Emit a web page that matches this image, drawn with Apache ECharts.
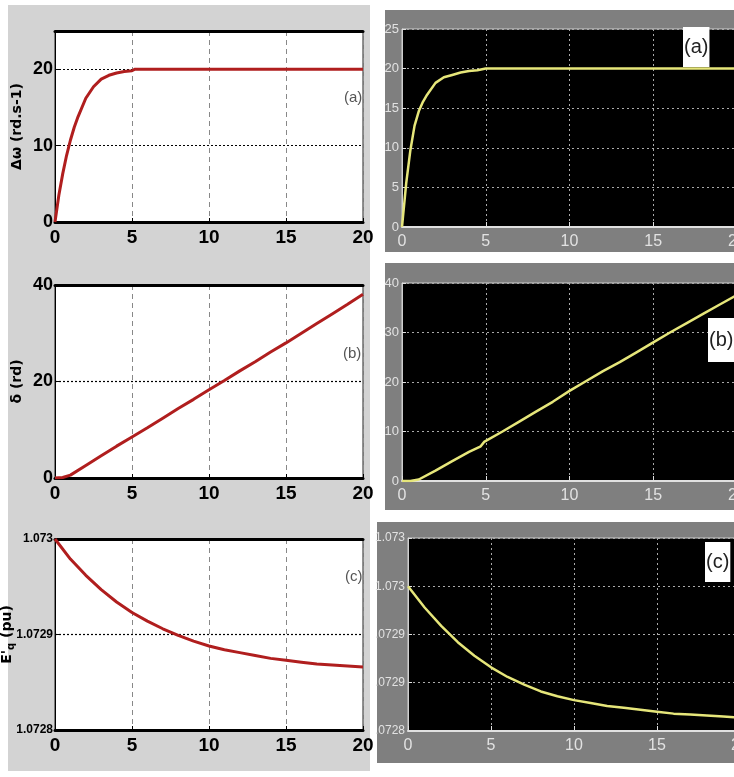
<!DOCTYPE html>
<html lang="en" style="height: 100%">
<head>
  <meta charset="utf-8">
</head>
<body style="height: 100%; margin: 0; background: #fff">
  <div id="container" style="width: 734px; height: 777px"></div>
  <script type="text/javascript" src="https://fastly.jsdelivr.net/npm/echarts@6/dist/echarts.min.js"></script>
  <script type="text/javascript">
    // --- data ---
    // left column (MATLAB plot, red)
    var tLeftA = [0, 0.25, 0.5, 0.75, 1, 1.25, 1.5, 2, 2.5, 3, 3.5, 4, 4.5, 5, 5.2, 10, 20];
    var speedLeft = [0, 3.5, 6.3, 8.7, 10.7, 12.4, 13.8, 16.2, 17.7, 18.7, 19.2, 19.5, 19.7, 19.8, 20.0, 20.0, 20.0];

    var tLeftB = [0, 0.5, 1, 2, 3, 4, 5, 6, 7, 8, 9, 10, 11, 12, 13, 14, 15, 16, 17, 18, 19, 20];
    var angleLeft = [0, 0.1, 0.6, 2.6, 4.6, 6.6, 8.5, 10.4, 12.4, 14.4, 16.3, 18.3, 20.2, 22.2, 24.1, 26.1, 28.0, 30.0, 32.0, 34.0, 36.0, 38.1];

    var tLeftC = [0, 1, 2, 3, 4, 5, 6, 7, 8, 9, 10, 11, 12, 13, 14, 15, 16, 17, 18, 19, 20];
    var eqLeft = [1.073, 1.072979, 1.072962, 1.072947, 1.072934, 1.072923, 1.072914, 1.072906, 1.072899, 1.072893,
      1.072888, 1.072884, 1.072881, 1.072878, 1.072875, 1.072873, 1.072871, 1.072869, 1.072868, 1.072867, 1.072866];

    // right column (Simulink scope, yellow)
    var tRightA = [0, 0.25, 0.5, 0.75, 1, 1.25, 1.5, 2, 2.5, 3, 3.5, 4, 4.5, 5, 20];
    var speedRight = [0, 5.5, 9.7, 12.8, 14.6, 15.8, 16.7, 18.2, 18.9, 19.2, 19.5, 19.7, 19.8, 20.0, 20.0];

    var tRightB = [0, 0.5, 1, 2, 3, 4, 4.7, 4.9, 6, 7, 8, 9, 10, 11, 12, 13, 14, 15, 16, 17, 18, 19, 20];
    var angleRight = [0, 0, 0.3, 2.1, 4.0, 5.9, 7.0, 7.9, 10.0, 12.0, 14.0, 16.0, 18.2, 20.2, 22.2, 24.0, 26.0, 28.0, 30.0, 31.9, 33.8, 35.7, 37.6];

    var tRightC = [0, 1, 2, 3, 4, 5, 6, 7, 8, 9, 10, 11, 12, 13, 14, 15, 16, 17, 18, 19, 20];
    var eqRight = [1.07295, 1.072928, 1.072909, 1.072892, 1.072878, 1.072866, 1.072856, 1.072848, 1.072841, 1.072836,
      1.072832, 1.072829, 1.072826, 1.072824, 1.072822, 1.07282, 1.072818, 1.072817, 1.072816, 1.072815, 1.072814];

    var rightCLabels = ['.0728', '.0729', '.0729', '1.073', '1.073'];

    function pairs(t, v) {
      return t.map(function (x, i) { return [x, v[i]]; });
    }

    var narrow = "'Liberation Sans Narrow', 'Liberation Sans', sans-serif";

    var leftGrids = [
      { left: 55, top: 31, width: 308, height: 191 },
      { left: 55, top: 285, width: 308, height: 193 },
      { left: 55, top: 539, width: 308, height: 191 }
    ];
    var rightGrids = [
      { left: 402, top: 29, width: 335, height: 198 },
      { left: 402, top: 283, width: 335, height: 198 },
      { left: 408, top: 538, width: 332, height: 193 }
    ];

    var grids = [];
    leftGrids.forEach(function (g) {
      grids.push(Object.assign({ show: true, outerBoundsMode: 'none', containLabel: false,
        backgroundColor: '#fff', borderColor: '#222', borderWidth: 1 }, g));
    });
    rightGrids.forEach(function (g) {
      grids.push(Object.assign({ show: true, outerBoundsMode: 'none', containLabel: false,
        backgroundColor: '#000', borderColor: '#cfcfcf', borderWidth: 1 }, g));
    });

    var xAxes = [];
    var yAxes = [];

    // left x axes (bottom + thick top border)
    [0, 1, 2].forEach(function (i) {
      xAxes.push({
        type: 'value', gridIndex: i, min: 0, max: 20, interval: 5,
        axisLine: { lineStyle: { color: '#000', width: 3 } },
        axisTick: { inside: true, length: 4, lineStyle: { color: '#000' } },
        axisLabel: { color: '#000', fontSize: 19, fontWeight: 'bold', fontFamily: narrow, margin: 6, hideOverlap: false },
        splitLine: { show: true, lineStyle: { color: '#888', type: [5, 4], width: 1 } }
      });
    });
    // right x axes
    [3, 4, 5].forEach(function (i) {
      xAxes.push({
        type: 'value', gridIndex: i, min: 0, max: 20, interval: 5,
        axisLine: { lineStyle: { color: '#e0e0e0', width: 2 } },
        axisTick: { inside: true, length: 5, lineStyle: { color: '#e0e0e0' } },
        axisLabel: { color: '#e2e2e2', fontSize: 16, fontFamily: narrow, margin: 7, hideOverlap: false },
        splitLine: { show: true, lineStyle: { color: '#aaa', type: [2, 3], width: 1 } }
      });
    });
    // left top border axes
    [0, 1, 2].forEach(function (i) {
      xAxes.push({
        type: 'value', gridIndex: i, position: 'top', min: 0, max: 20, interval: 5,
        axisLine: { lineStyle: { color: '#000', width: 3 } },
        axisTick: { show: false }, axisLabel: { show: false }, splitLine: { show: false }
      });
    });

    var leftY = [
      { min: 0, max: 25, interval: 10, name: 'Δω (rd.s-1)', nameGap: 31 },
      { min: 0, max: 40, interval: 20, name: 'δ (rd)', nameGap: 31 },
      { min: 1.0728, max: 1.073, interval: 0.0001, name: "{n|E'}{s|q}{n| (pu)}", nameGap: 41 }
    ];
    leftY.forEach(function (c, i) {
      yAxes.push({
        type: 'value', gridIndex: i, min: c.min, max: c.max, interval: c.interval,
        name: c.name, nameLocation: 'middle', nameRotate: 90, nameGap: c.nameGap, nameMoveOverlap: false,
        nameTextStyle: {
          color: '#000', fontSize: 14, fontWeight: 'bold', fontFamily: 'DejaVu Sans',
          rich: {
            n: { color: '#000', fontSize: 14, fontWeight: 'bold', fontFamily: 'DejaVu Sans' },
            s: { color: '#000', fontSize: 10, fontWeight: 'bold', fontFamily: 'DejaVu Sans', padding: [0, 0, -8, 0] }
          }
        },
        axisLine: { show: true, lineStyle: { color: '#000', width: 1 } },
        axisTick: { inside: true, length: 4, lineStyle: { color: '#000' } },
        axisLabel: {
          color: '#000', fontSize: i === 2 ? 12 : 18, fontWeight: 'bold', fontFamily: narrow, margin: 2,
          showMaxLabel: i !== 0, hideOverlap: false
        },
        splitLine: { show: true, lineStyle: { color: '#000', type: [2, 2], width: 1.2 } }
      });
    });

    var rightY = [
      { min: 0, max: 25, interval: 5 },
      { min: 0, max: 40, interval: 10 },
      { min: 1.0728, max: 1.073, interval: 0.00005 }
    ];
    rightY.forEach(function (c, i) {
      yAxes.push({
        type: 'value', gridIndex: 3 + i, min: c.min, max: c.max, interval: c.interval,
        axisLine: { show: true, lineStyle: { color: '#cfcfcf', width: 1 } },
        axisTick: { inside: true, length: 4, lineStyle: { color: '#e0e0e0' } },
        axisLabel: {
          color: '#e2e2e2', fontSize: i === 2 ? 12 : 13, fontFamily: narrow, margin: 3, hideOverlap: false,
          formatter: i === 2 ? function (v) {
            return rightCLabels[Math.round((v - 1.0728) / 0.00005)];
          } : null
        },
        splitLine: { show: true, lineStyle: { color: '#aaa', type: [2, 3], width: 1 } }
      });
    });

    var leftLine = { type: 'line', showSymbol: false, lineStyle: { color: '#b01e1e', width: 3 }, z: 5 };
    var rightLine = { type: 'line', showSymbol: false, lineStyle: { color: '#e6e67a', width: 2.5 }, z: 5 };

    var series = [
      Object.assign({ xAxisIndex: 0, yAxisIndex: 0, data: pairs(tLeftA, speedLeft) }, leftLine),
      Object.assign({ xAxisIndex: 1, yAxisIndex: 1, data: pairs(tLeftB, angleLeft) }, leftLine),
      Object.assign({ xAxisIndex: 2, yAxisIndex: 2, data: pairs(tLeftC, eqLeft) }, leftLine),
      Object.assign({ xAxisIndex: 3, yAxisIndex: 3, data: pairs(tRightA, speedRight) }, rightLine),
      Object.assign({ xAxisIndex: 4, yAxisIndex: 4, data: pairs(tRightB, angleRight) }, rightLine),
      Object.assign({ xAxisIndex: 5, yAxisIndex: 5, data: pairs(tRightC, eqRight) }, rightLine)
    ];

    var leftTag = { color: '#555', fontSize: 15, fontWeight: 'normal', fontFamily: narrow };
    var rightTag = { color: '#222', fontSize: 20, fontWeight: 'normal', fontFamily: narrow };

    var dom = document.getElementById('container');
    var myChart = echarts.init(dom, null, { renderer: 'canvas' });

    var option = {
      animation: false,
      backgroundColor: '#fff',
      graphic: [
        { type: 'rect', z: -10, shape: { x: 8, y: 5, width: 362, height: 766 }, style: { fill: '#d3d3d3' } },
        { type: 'rect', z: -10, shape: { x: 385, y: 10, width: 360, height: 242 }, style: { fill: '#7f7f7f' } },
        { type: 'rect', z: -10, shape: { x: 385, y: 263, width: 360, height: 247 }, style: { fill: '#7f7f7f' } },
        { type: 'rect', z: -10, shape: { x: 377, y: 522, width: 370, height: 241 }, style: { fill: '#7f7f7f' } }
      ],
      title: [
        { text: '(a)', left: 344, top: 90, textStyle: leftTag, padding: 0 },
        { text: '(b)', left: 343, top: 346, textStyle: leftTag, padding: 0 },
        { text: '(c)', left: 345, top: 569, textStyle: leftTag, padding: 0 },
        { text: '(a)', left: 683, top: 27, textStyle: rightTag, backgroundColor: '#fff', padding: [10, 1, 10, 1] },
        { text: '(b)', left: 708, top: 318, textStyle: rightTag, backgroundColor: '#fff', padding: [12, 1, 12, 1] },
        { text: '(c)', left: 705, top: 542, textStyle: rightTag, backgroundColor: '#fff', padding: [10, 1, 10, 1] }
      ],
      grid: grids,
      xAxis: xAxes,
      yAxis: yAxes,
      series: series
    };

    myChart.setOption(option);
    window.addEventListener('resize', myChart.resize);
  </script>
</body>
</html>
